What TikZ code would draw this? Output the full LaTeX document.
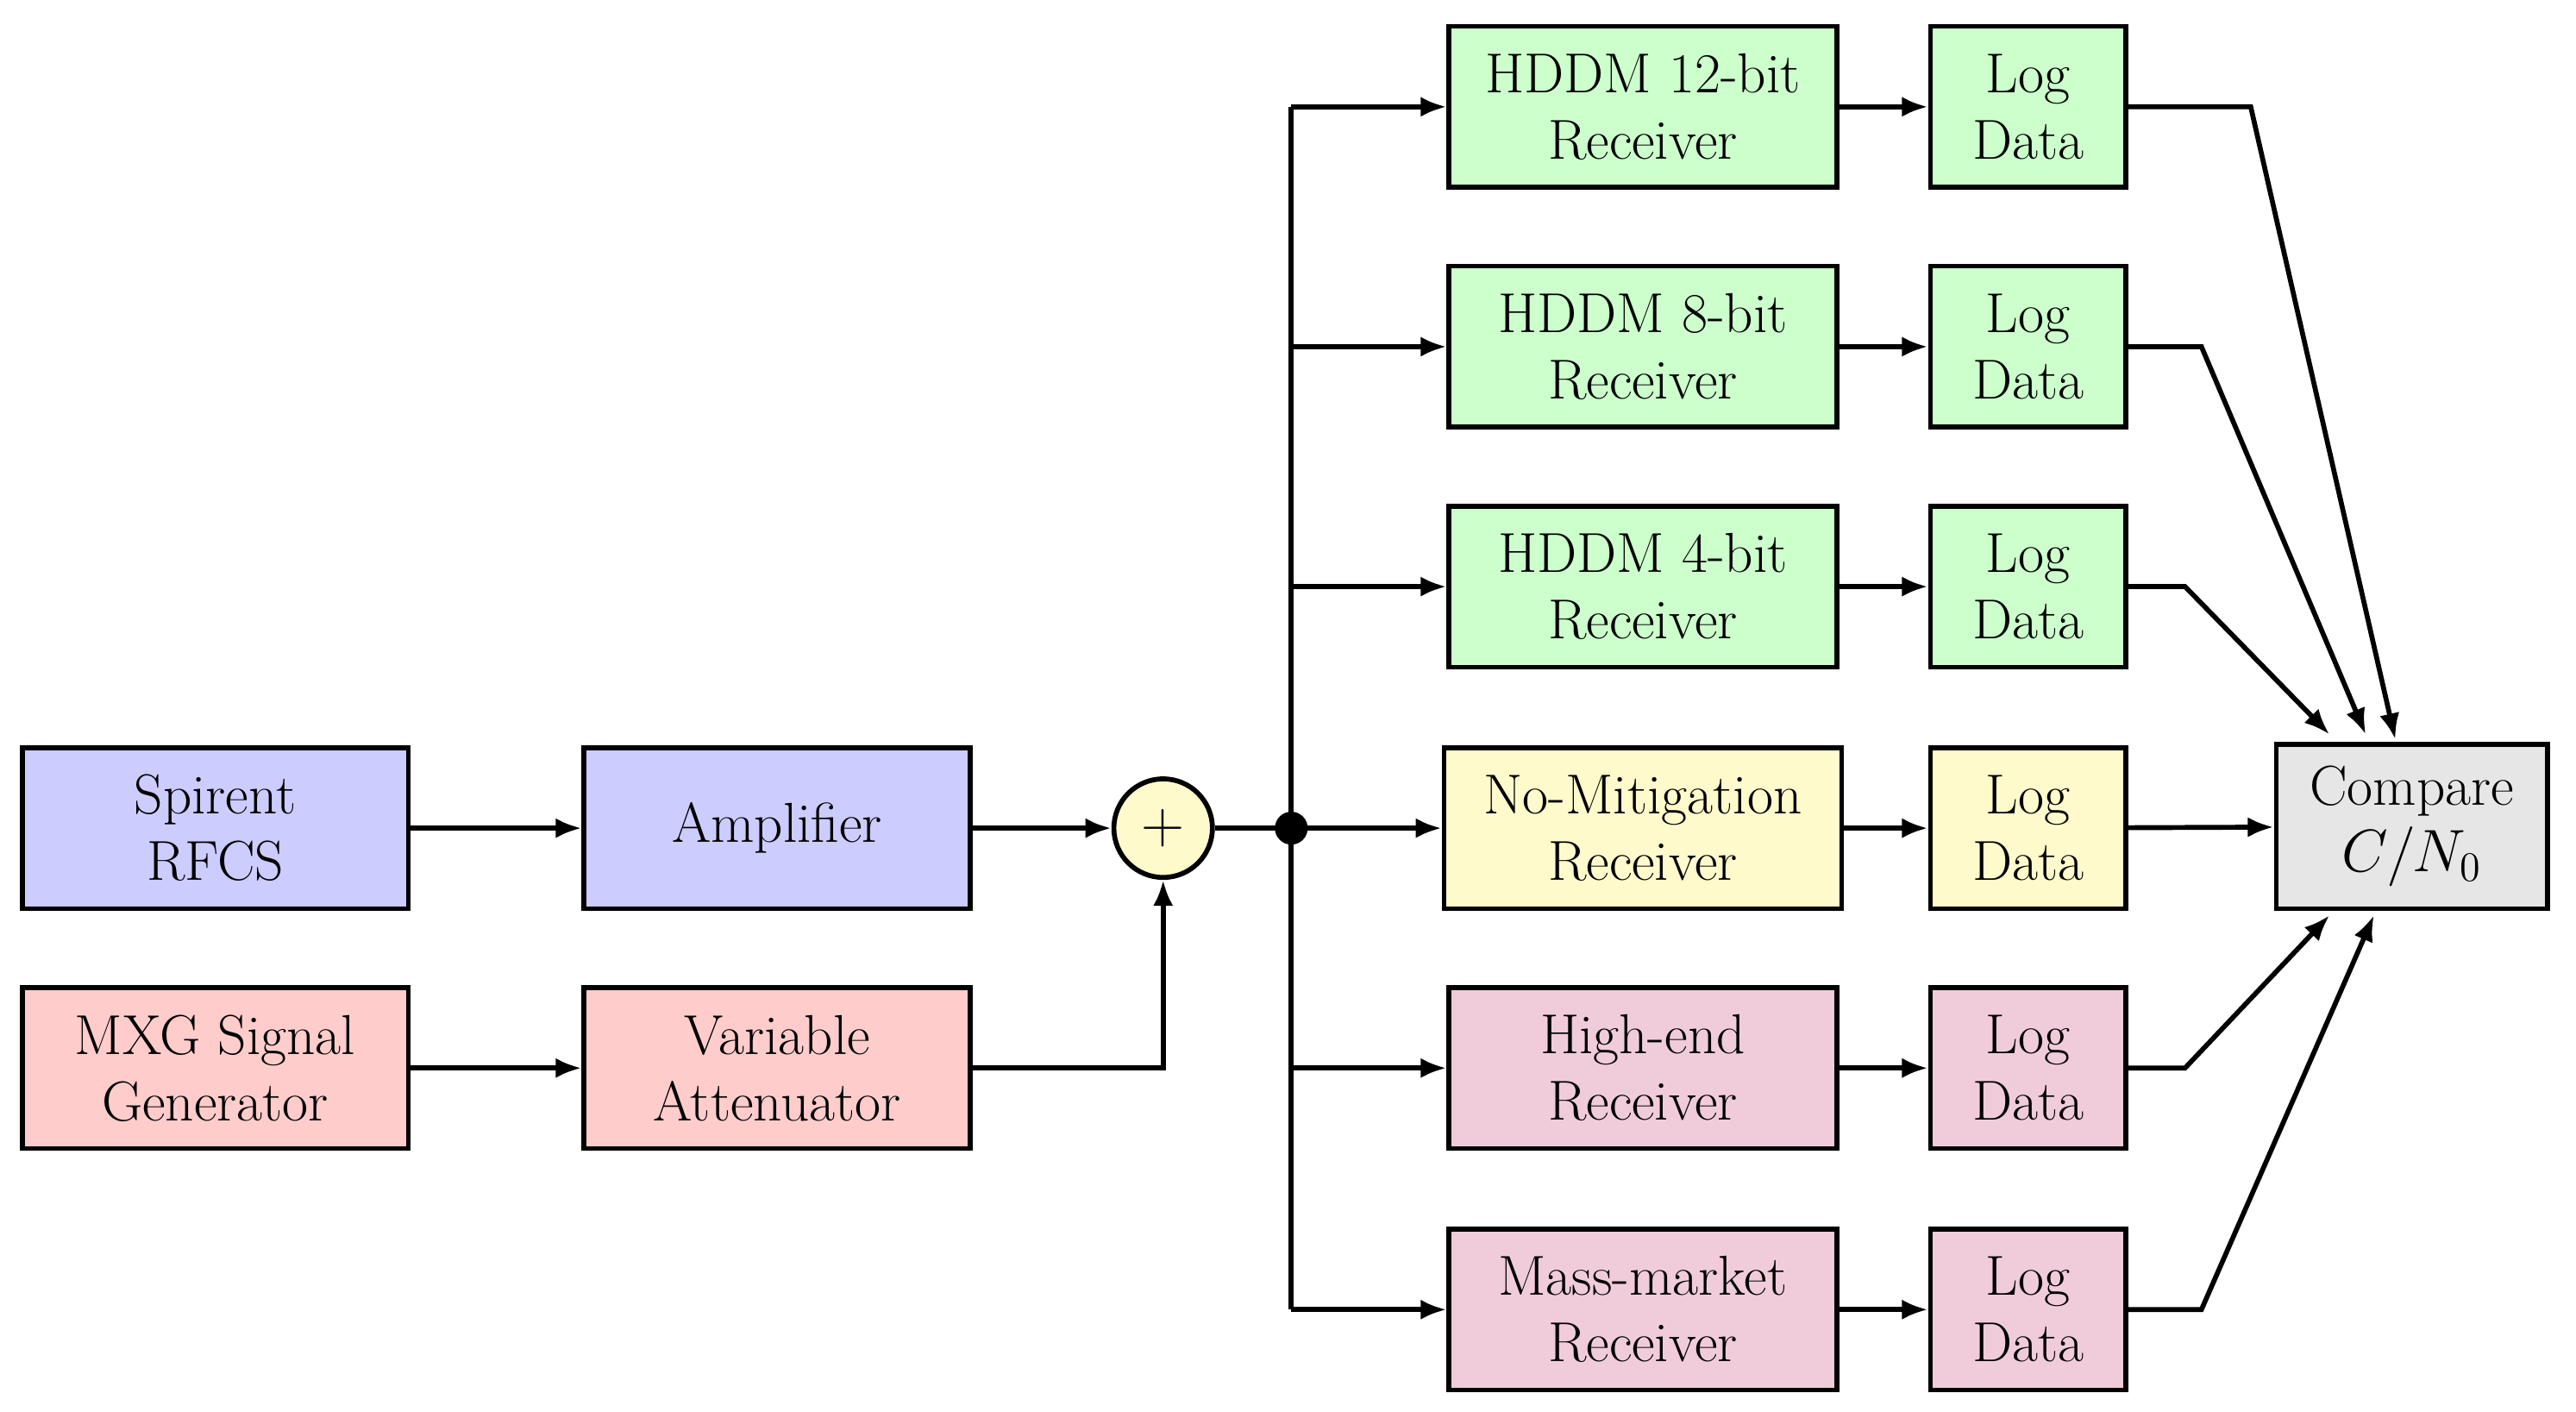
\documentclass[tikz,border=0pt]{standalone}
\usetikzlibrary{arrows.meta}
\begin{document}
\begin{tikzpicture}[x=0.02cm,y=-0.02cm,
  every node/.style={font=\fontsize{19.5}{23}\selectfont},
  box/.style={draw,line width=1.7pt,minimum height=1.96cm,align=center,inner sep=0pt},
  rx/.style={box,minimum width=4.72cm},
  lg/.style={box,minimum width=2.38cm},
  src/.style={box,minimum width=4.7cm},
  ar/.style={line width=1.7pt,-{Latex[length=9pt,width=7pt]}},
  ln/.style={line width=1.7pt}]
\definecolor{cb}{HTML}{CCCCFF}\definecolor{cr}{HTML}{FFCCCC}
\definecolor{cg}{HTML}{CCFFCC}\definecolor{cy}{HTML}{FFFACC}
\definecolor{cp}{HTML}{F0CCDA}\definecolor{cgr}{HTML}{E6E6E6}
\useasboundingbox (0,0) rectangle (1568,859);
\node[src,fill=cb] (sp) at (131,504) {Spirent\\RFCS};
\node[src,fill=cb] (amp) at (473,504) {Amplifier};
\node[src,fill=cr] (mxg) at (131,650) {MXG Signal\\Generator};
\node[src,fill=cr] (att) at (473,650) {Variable\\Attenuator};
\node[circle,draw,line width=1.7pt,fill=cy,minimum size=1.2cm,inner sep=0pt] (sum) at (708,504) {$+$};
\fill (786,504) circle (0.2cm);
\coordinate (j) at (786,504);
\node[rx,fill=cg] (r1) at (1000,65) {HDDM 12-bit\\Receiver};
\node[rx,fill=cg] (r2) at (1000,211) {HDDM 8-bit\\Receiver};
\node[rx,fill=cg] (r3) at (1000,357) {HDDM 4-bit\\Receiver};
\node[rx,fill=cy,minimum width=4.84cm] (r4) at (1000,504) {No-Mitigation\\Receiver};
\node[rx,fill=cp] (r5) at (1000,650) {High-end\\Receiver};
\node[rx,fill=cp] (r6) at (1000,797) {Mass-market\\Receiver};
\node[lg,fill=cg] (l1) at (1234.5,65) {Log\\Data};
\node[lg,fill=cg] (l2) at (1234.5,211) {Log\\Data};
\node[lg,fill=cg] (l3) at (1234.5,357) {Log\\Data};
\node[lg,fill=cy] (l4) at (1234.5,504) {Log\\Data};
\node[lg,fill=cp] (l5) at (1234.5,650) {Log\\Data};
\node[lg,fill=cp] (l6) at (1234.5,797) {Log\\Data};
\node[box,fill=cgr,minimum width=3.3cm,minimum height=2cm] (cmp) at (1468,503) {Compare\\$C/N_0$};
\draw[ar] (sp) -- (amp);
\draw[ar] (mxg) -- (att);
\draw[ar] (amp) -- (sum);
\draw[ar] (att.east) -| (sum.south);
\draw[ln] (sum) -- (j);
\draw[ln] (786,65) -- (786,797);
\foreach \i/\y in {1/65,2/211,3/357,4/504,5/650,6/797}{
  \draw[ar] (786,\y) -- (r\i.west);
  \draw[ar] (r\i) -- (l\i);
}
\draw[ar] (l1.east) -- (1370,65) -- (1458,450);
\draw[ar] (l2.east) -- (1340,211) -- (1440,447);
\draw[ar] (l3.east) -- (1330,357) -- (1418,447);
\draw[ar] (l4) -- (cmp);
\draw[ar] (l5.east) -- (1330,650) -- (1418,557);
\draw[ar] (l6.east) -- (1340,797) -- (1445,557);
\end{tikzpicture}
\end{document}
